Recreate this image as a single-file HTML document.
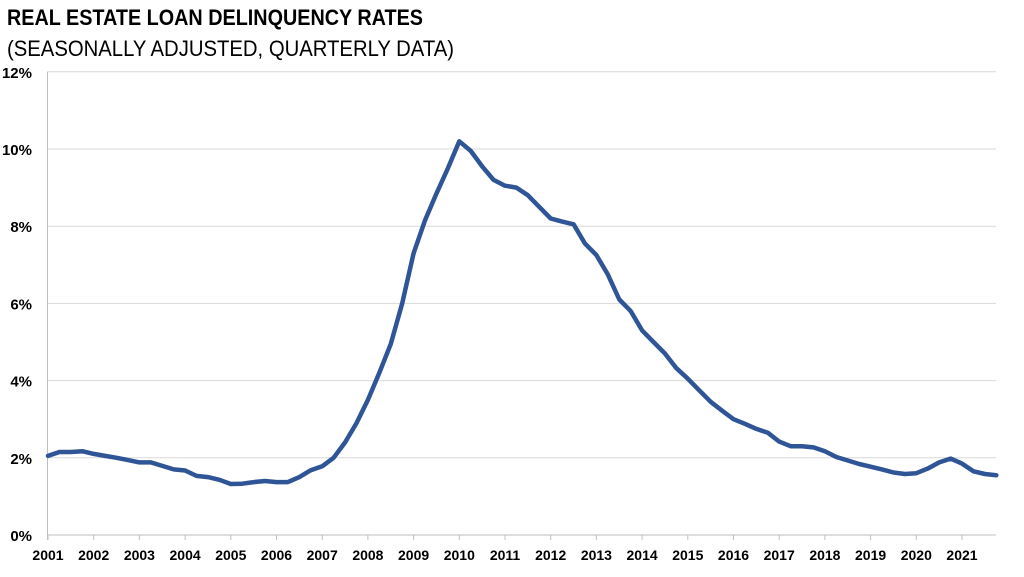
<!DOCTYPE html>
<html><head><meta charset="utf-8"><style>
body{margin:0;background:#fff;}
svg{display:block;font-family:"Liberation Sans",sans-serif;}
</style></head><body>
<svg id="c" width="1024" height="577" viewBox="0 0 1024 577">
<text x="7" y="25" font-size="22" font-weight="bold" fill="#000" textLength="416" lengthAdjust="spacingAndGlyphs">REAL ESTATE LOAN DELINQUENCY RATES</text>
<text x="7" y="56" font-size="22" fill="#000" textLength="447" lengthAdjust="spacingAndGlyphs">(SEASONALLY ADJUSTED, QUARTERLY DATA)</text>
<g id="grid"></g>
<g id="lab"></g>
<polyline id="ln" fill="none" stroke="#2F5597" stroke-width="4.5" stroke-linejoin="round" stroke-linecap="round"/>
</svg>
<script>
var d=[2.05,2.15,2.15,2.17,2.1,2.05,2.0,1.94,1.88,1.88,1.79,1.7,1.67,1.53,1.5,1.43,1.32,1.33,1.37,1.4,1.37,1.37,1.5,1.68,1.78,2.0,2.4,2.9,3.5,4.2,4.95,6.0,7.3,8.15,8.85,9.5,10.2,9.95,9.55,9.2,9.05,9.0,8.8,8.5,8.2,8.12,8.05,7.55,7.25,6.75,6.1,5.8,5.3,5.0,4.7,4.32,4.05,3.75,3.45,3.22,3.0,2.88,2.75,2.65,2.42,2.3,2.3,2.27,2.17,2.02,1.93,1.84,1.77,1.7,1.62,1.58,1.6,1.72,1.88,1.98,1.85,1.65,1.58,1.55];
var ns="http://www.w3.org/2000/svg",g=document.getElementById('grid'),lb=document.getElementById('lab');
function el(t,a,p,txt){var e=document.createElementNS(ns,t);for(var k in a)e.setAttribute(k,a[k]);if(txt)e.textContent=txt;p.appendChild(e);}
var X0=48,DX=45.7,Y0=535,DY=38.6;
for(var i=0;i<=6;i++){var y=Y0-i*2*DY;
 el('line',{x1:47,x2:996,y1:y,y2:y,stroke:i?'#d9d9d9':'#bfbfbf','stroke-width':1},g);
 el('text',{x:32,y:y+6,'font-size':15,'font-weight':'bold','text-anchor':'end',fill:'#000'},lb,(i*2)+'%');}
el('line',{x1:47.5,x2:47.5,y1:72,y2:540,stroke:'#bfbfbf'},g);
for(var j=0;j<=20;j++){var x=X0+j*DX;
 el('line',{x1:x,x2:x,y1:535,y2:540,stroke:'#bfbfbf'},g);
 el('text',{x:x,y:560,'font-size':14,'font-weight':'bold','text-anchor':'middle',fill:'#000'},lb,String(2001+j));}
var pts=d.map(function(v,i){return (X0+i*DX/4).toFixed(1)+','+(Y0-v*DY).toFixed(1);}).join(' ');
document.getElementById('ln').setAttribute('points',pts);
</script>
</body></html>
